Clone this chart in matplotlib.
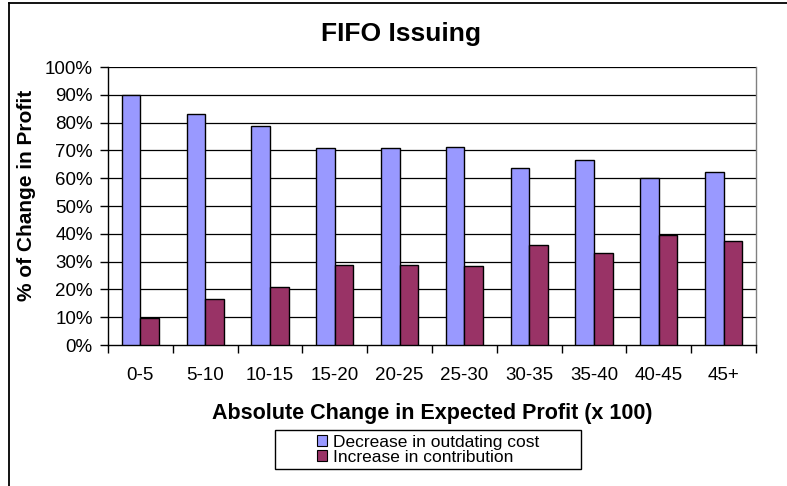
import matplotlib
matplotlib.use("Agg")
import matplotlib.pyplot as plt
import numpy as np
from matplotlib.lines import Line2D
from matplotlib.patches import Rectangle, Patch

plt.rcParams['font.family'] = ['Liberation Sans', 'DejaVu Sans']

categories = ["0-5", "5-10", "10-15", "15-20", "20-25", "25-30", "30-35", "35-40", "40-45", "45+"]
decrease_outdating = [90.0, 83.1, 78.7, 70.8, 70.8, 71.3, 63.5, 66.5, 60.1, 62.1]
increase_contrib = [9.8, 16.6, 20.9, 28.7, 28.7, 28.3, 36.1, 33.2, 39.6, 37.5]
yticks = [0, 10, 20, 30, 40, 50, 60, 70, 80, 90, 100]

blue = "#9999FF"
plum = "#993366"

fig = plt.figure(figsize=(7.87, 4.86), dpi=100)
ax = fig.add_axes([108/787, 1 - 345/486, (756-108)/787, (345-67)/486])

x = np.arange(len(categories))
w = 0.288
ax.bar(x - w/2, decrease_outdating, w, color=blue, edgecolor="black", linewidth=1.0, zorder=3)
ax.bar(x + w/2, increase_contrib, w, color=plum, edgecolor="black", linewidth=1.0, zorder=3)

ax.set_xlim(-0.5, len(categories) - 0.5)
ax.set_ylim(0, 100)
ax.set_yticks(yticks)
ax.set_yticklabels([f"{v}%" for v in yticks], fontsize=13.5)
for v in yticks[1:]:
    ax.axhline(v, color="black", linewidth=0.9, zorder=1)

ax.set_xticks(x)
ax.set_xticklabels(categories, fontsize=13.5)
ax.set_xticks(np.arange(-0.5, len(categories)), minor=True)
ax.tick_params(axis="x", which="major", length=0, pad=16)
ax.tick_params(axis="x", which="minor", length=6, width=1, direction="out", color="black")
ax.tick_params(axis="y", length=6, width=1, direction="out", pad=5)

ax.spines["top"].set_visible(False)
ax.spines["right"].set_color("#808080")
ax.spines["right"].set_linewidth(1)
ax.spines["left"].set_linewidth(1)
ax.spines["bottom"].set_linewidth(1)

fig.text(401/787, 1 - 34/486, "FIFO Issuing", ha="center", va="center",
         fontsize=19, fontweight="bold")
fig.text(432/787, 1 - 413/486, "Absolute Change in Expected Profit (x 100)",
         ha="center", va="center", fontsize=15.5, fontweight="bold")
fig.text(27/787, 1 - 195/486, "% of Change in Profit", ha="center", va="center",
         rotation=90, fontsize=15, fontweight="bold")

# legend box
fig.add_artist(Rectangle((275/787, 1 - 469/486), (581-275)/787, (469-430)/486,
                         transform=fig.transFigure, fill=False, edgecolor="black",
                         linewidth=1.0))
handles = [Patch(facecolor=blue, edgecolor="black", linewidth=0.8),
           Patch(facecolor=plum, edgecolor="black", linewidth=0.8)]
fig.legend(handles, ["Decrease in outdating cost", "Increase in contribution"],
           loc="center left", bbox_to_anchor=(317/787, 1 - 450/486), frameon=False,
           fontsize=12.5, handlelength=0.6, handleheight=0.6, handletextpad=0.3,
           labelspacing=0.0, borderpad=0, borderaxespad=0)

# outer chart border (left and top visible)
fig.add_artist(Line2D([8.5/787, 8.5/787], [0, 1 - 3/486], transform=fig.transFigure,
                      color="black", linewidth=1.3))
fig.add_artist(Line2D([8.5/787, 1], [1 - 3/486, 1 - 3/486], transform=fig.transFigure,
                      color="black", linewidth=1.3))

fig.savefig("out.png", dpi=100)
